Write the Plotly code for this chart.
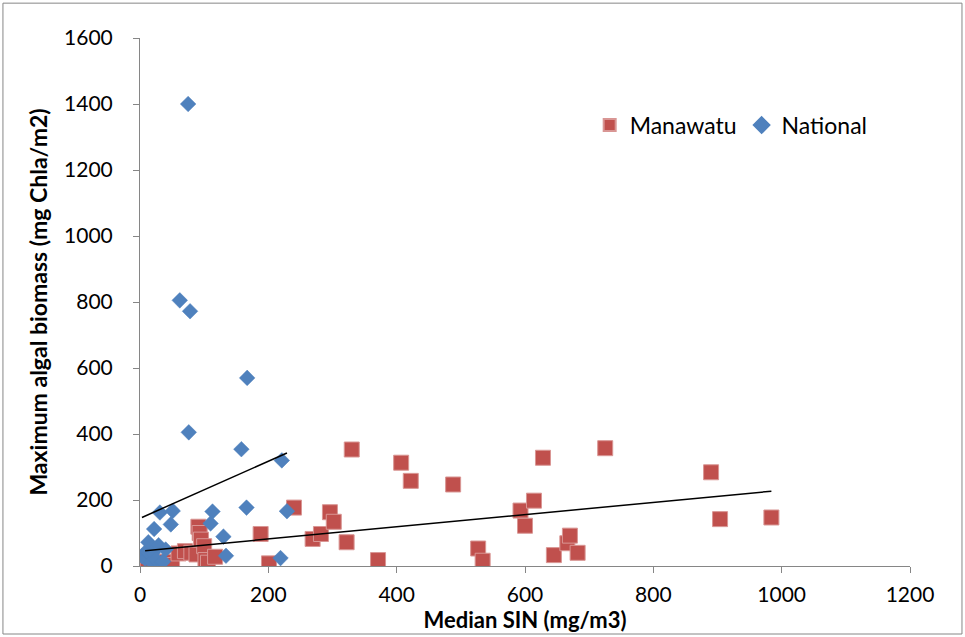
import plotly.graph_objects as go

# Manawatu series (Median SIN, Max algal biomass)
man_x = [8, 12, 42, 50, 60, 70, 80, 88, 91, 93, 95, 100, 102, 106, 117, 188, 201, 240, 269, 282,
         296, 302, 322, 330, 371, 407, 422, 488, 527, 534, 593, 600, 614, 628, 645, 666, 670, 682,
         725, 890, 904, 984]
man_y = [3, 8, 13, 3, 38, 45, 40, 35, 119, 100, 80, 60, 18, 10, 28, 97, 8, 177, 82, 97,
         163, 134, 72, 353, 18, 313, 258, 247, 53, 16, 168, 122, 198, 328, 33, 69, 92, 40,
         357, 284, 142, 147]

# National series
nat_x = [3, 8, 10, 13, 18, 20, 22, 25, 29, 31, 34, 36, 40, 48, 51, 62, 76, 75, 78, 110, 113,
         130, 134, 158, 166, 167, 219, 221, 229]
nat_y = [30, 22, 45, 72, 12, 40, 112, 20, 63, 162, 10, 14, 50, 126, 167, 805, 405, 1400, 772,
         129, 165, 89, 31, 354, 177, 570, 24, 320, 166]

# Linear trendlines (intercept, slope)
man_trend = [45.0, 0.1846]
nat_trend = [144.5, 0.865]

x_ticks = [0, 200, 400, 600, 800, 1000, 1200]
y_ticks = [0, 200, 400, 600, 800, 1000, 1200, 1400, 1600]

RED = "#C0504D"
BLUE = "#4F81BD"
FONT = "Lato, Calibri, sans-serif"

fig = go.Figure()

fig.add_trace(go.Scatter(
    x=man_x, y=man_y, mode="markers", name="Manawatu",
    marker=dict(symbol="square", size=15, color=RED, line=dict(color="#D99694", width=1)),
))
fig.add_trace(go.Scatter(
    x=nat_x, y=nat_y, mode="markers", name="National",
    marker=dict(symbol="diamond", size=12, color=BLUE, line=dict(color="#4F81BD", width=0.5)),
))

mx = [min(man_x), max(man_x)]
fig.add_trace(go.Scatter(
    x=mx, y=[man_trend[0] + man_trend[1] * v for v in mx], mode="lines",
    line=dict(color="black", width=1.5), showlegend=False, hoverinfo="skip",
))
nx = [min(nat_x), max(nat_x)]
fig.add_trace(go.Scatter(
    x=nx, y=[nat_trend[0] + nat_trend[1] * v for v in nx], mode="lines",
    line=dict(color="black", width=1.5), showlegend=False, hoverinfo="skip",
))

axis_common = dict(
    showgrid=False, zeroline=False, showline=True, linecolor="#868686", linewidth=1,
    ticks="outside", ticklen=6, tickcolor="#868686", tickwidth=1,
    tickfont=dict(family=FONT, size=21, color="black"),
)

fig.update_layout(
    width=965, height=637,
    margin=dict(l=140, r=55, t=38, b=71),
    paper_bgcolor="white", plot_bgcolor="white",
    font=dict(family=FONT, color="black"),
    xaxis=dict(range=[0, 1200], tickvals=x_ticks, ticktext=[str(v) for v in x_ticks],
               ticklabelstandoff=4,
               title=dict(text="<b>Median SIN (mg/m3)</b>", font=dict(family=FONT, size=22), standoff=0),
               **axis_common),
    yaxis=dict(range=[0, 1600], tickvals=y_ticks, ticktext=[str(v) for v in y_ticks],
               ticklabelstandoff=16,
               title=dict(text="<b>Maximum algal biomass (mg Chla/m2)</b>", font=dict(family=FONT, size=23), standoff=10),
               **axis_common),
    legend=dict(x=0.584, y=0.835, xanchor="left", yanchor="middle", orientation="h",
                font=dict(family=FONT, size=23), bgcolor="rgba(0,0,0,0)", itemsizing="constant",
                traceorder="normal"),
    shapes=[dict(type="rect", xref="paper", yref="paper",
                 x0=-0.178, x1=1.0675, y0=-0.1288, y1=1.066,
                 line=dict(color="#868686", width=1), fillcolor="rgba(0,0,0,0)", layer="below")],
)

fig.write_html("out.html")
